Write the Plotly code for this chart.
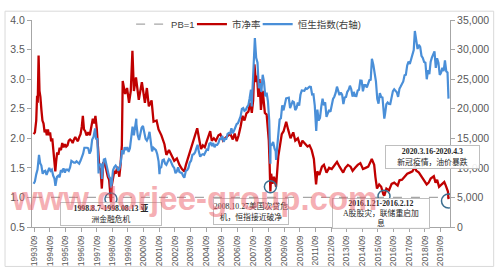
import plotly.graph_objects as go

# ---------------- data ----------------
hsi_dates = [
"1993-08-31","1993-09-30","1993-10-31","1993-11-30","1993-12-31","1994-01-04","1994-01-31","1994-02-28","1994-03-31","1994-04-30","1994-05-31","1994-06-30","1994-07-31","1994-08-31","1994-09-30","1994-10-31","1994-11-30","1994-12-31",
"1995-01-23","1995-02-28","1995-03-31","1995-04-30","1995-05-31","1995-06-30","1995-07-31","1995-08-31","1995-09-30","1995-10-31","1995-11-30","1995-12-31",
"1996-01-31","1996-02-29","1996-03-31","1996-04-30","1996-05-31","1996-06-30","1996-07-31","1996-08-31","1996-09-30","1996-10-31","1996-11-30","1996-12-31",
"1997-01-31","1997-02-28","1997-03-31","1997-04-30","1997-05-31","1997-06-30","1997-07-31","1997-08-07","1997-08-31","1997-09-30","1997-10-28","1997-10-31","1997-11-30","1997-12-31",
"1998-01-12","1998-01-31","1998-02-28","1998-03-31","1998-04-30","1998-05-31","1998-06-30","1998-07-31","1998-08-13","1998-08-31","1998-09-30","1998-10-31","1998-11-30","1998-12-31",
"1999-01-31","1999-02-28","1999-03-31","1999-04-30","1999-05-31","1999-06-30","1999-07-31","1999-08-31","1999-09-30","1999-10-31","1999-11-30","1999-12-31",
"2000-01-31","2000-02-29","2000-03-28","2000-03-31","2000-04-30","2000-05-31","2000-06-30","2000-07-31","2000-08-31","2000-09-30","2000-10-31","2000-11-30","2000-12-31",
"2001-01-31","2001-02-28","2001-03-31","2001-04-30","2001-05-31","2001-06-30","2001-07-31","2001-08-31","2001-09-21","2001-09-30","2001-10-31","2001-11-30","2001-12-31",
"2002-01-31","2002-02-28","2002-03-31","2002-04-30","2002-05-31","2002-06-30","2002-07-31","2002-08-31","2002-09-30","2002-10-31","2002-11-30","2002-12-31",
"2003-01-31","2003-02-28","2003-03-31","2003-04-25","2003-05-31","2003-06-30","2003-07-31","2003-08-31","2003-09-30","2003-10-31","2003-11-30","2003-12-31",
"2004-01-31","2004-02-29","2004-03-31","2004-04-30","2004-05-31","2004-06-30","2004-07-31","2004-08-31","2004-09-30","2004-10-31","2004-11-30","2004-12-31",
"2005-01-31","2005-02-28","2005-03-31","2005-04-30","2005-05-31","2005-06-30","2005-07-31","2005-08-31","2005-09-30","2005-10-31","2005-11-30","2005-12-31",
"2006-01-31","2006-02-28","2006-03-31","2006-04-30","2006-05-31","2006-06-30","2006-07-31","2006-08-31","2006-09-30","2006-10-31","2006-11-30","2006-12-31",
"2007-01-31","2007-02-28","2007-03-31","2007-04-30","2007-05-31","2007-06-30","2007-07-31","2007-08-17","2007-08-31","2007-09-30","2007-10-30","2007-11-30","2007-12-31",
"2008-01-31","2008-02-29","2008-03-31","2008-04-30","2008-05-31","2008-06-30","2008-07-31","2008-08-31","2008-09-30","2008-10-27","2008-10-31","2008-11-30","2008-12-31",
"2009-01-31","2009-02-28","2009-03-09","2009-03-31","2009-04-30","2009-05-31","2009-06-30","2009-07-31","2009-08-31","2009-09-30","2009-10-31","2009-11-30","2009-12-31",
"2010-01-31","2010-02-28","2010-03-31","2010-04-30","2010-05-31","2010-06-30","2010-07-31","2010-08-31","2010-09-30","2010-10-31","2010-11-30","2010-12-31",
"2011-01-31","2011-02-28","2011-03-31","2011-04-30","2011-05-31","2011-06-30","2011-07-31","2011-08-31","2011-10-04","2011-10-31","2011-11-30","2011-12-31",
"2012-01-31","2012-02-29","2012-03-31","2012-04-30","2012-05-31","2012-06-30","2012-07-31","2012-08-31","2012-09-30","2012-10-31","2012-11-30","2012-12-31",
"2013-01-31","2013-02-28","2013-03-31","2013-04-30","2013-05-31","2013-06-30","2013-07-31","2013-08-31","2013-09-30","2013-10-31","2013-11-30","2013-12-31",
"2014-01-31","2014-02-28","2014-03-31","2014-04-30","2014-05-31","2014-06-30","2014-07-31","2014-08-31","2014-09-30","2014-10-31","2014-11-30","2014-12-31",
"2015-01-31","2015-02-28","2015-03-31","2015-04-28","2015-05-31","2015-06-30","2015-07-31","2015-08-31","2015-09-30","2015-10-31","2015-11-30","2015-12-31",
"2016-01-31","2016-02-12","2016-02-29","2016-03-31","2016-04-30","2016-05-31","2016-06-30","2016-07-31","2016-08-31","2016-09-30","2016-10-31","2016-11-30","2016-12-31",
"2017-01-31","2017-02-28","2017-03-31","2017-04-30","2017-05-31","2017-06-30","2017-07-31","2017-08-31","2017-09-30","2017-10-31","2017-11-30","2017-12-31",
"2018-01-26","2018-01-31","2018-02-28","2018-03-31","2018-04-30","2018-05-31","2018-06-30","2018-07-31","2018-08-31","2018-09-30","2018-10-31","2018-11-30","2018-12-31",
"2019-01-31","2019-02-28","2019-03-31","2019-04-30","2019-05-31","2019-06-30","2019-07-31","2019-08-31","2019-09-30","2019-10-31","2019-11-30","2019-12-31",
"2020-01-31","2020-02-29","2020-03-23",
]
hsi_values = [
7300,7700,8900,9700,11888,12200,10800,10400,9000,9400,9500,8800,9400,10000,9500,9700,8700,8190,
6970,8500,8700,8400,9600,9400,9900,9200,9700,9700,9500,10070,
11200,11000,10900,10900,11100,10900,10700,11200,11800,12400,13400,13450,
13400,13300,12400,12900,14800,15200,16400,16673,14800,15000,9060,10600,10500,10700,
8120,9500,11400,11500,10600,9400,8500,8200,6660,7300,9600,10150,10400,10050,
9500,9900,10900,13000,12300,13500,13000,13500,12700,13300,15300,16960,
15500,17100,18300,17400,15500,14700,16100,16800,17100,15650,14900,14600,15100,
16100,14600,12800,13400,13200,13000,12300,11100,8930,9950,10100,11300,11400,
10700,10500,11000,11500,11300,10600,10300,10000,9100,9400,10100,9300,
9200,9100,8600,8330,9500,9600,10000,10900,11200,12200,12300,12600,
13300,13900,12700,11900,12200,12300,12200,12850,13100,13050,14100,14230,
13700,14200,13500,13900,13900,14200,14900,14900,15400,14400,14900,14900,
15750,15900,15800,16700,15850,16300,16970,17400,17550,18300,18700,19960,
20100,19650,19800,20300,20600,21770,23200,20400,23900,27100,31950,28600,27800,
23450,24300,22850,25750,24530,22100,22700,21260,18000,10680,13970,13900,14390,
13280,12800,11340,13580,15520,18170,18380,20570,19720,20950,21750,21820,21870,
20120,20600,21240,21100,19770,20130,21030,20540,22360,23100,23000,23035,
23450,23340,23530,23720,23680,22400,22440,20530,16250,19860,17990,18430,
20390,21680,20560,21090,18630,19440,19800,19480,20840,21640,22030,22660,
23730,23020,22300,22740,22390,20800,21880,22000,22860,23200,23880,23300,
22040,22840,22150,22130,23080,23190,24760,24740,22930,24000,23990,23605,
24500,24820,24900,28440,27420,26250,24640,21670,20850,22640,21990,21910,
19680,18320,19110,20780,21070,20820,20790,21890,22980,23300,22930,22790,22000,
23360,23740,24110,24615,25660,25760,27320,27970,27550,28250,29180,29920,
33150,32890,30840,30090,30810,30470,28950,28580,27890,27790,24980,26500,25850,
27940,28630,29050,29700,26900,28540,27780,25720,26090,26900,26350,28190,
26310,26130,21700,
]

pb_dates = [
"1993-08-31","1993-09-30","1993-10-31","1993-11-20","1993-12-05","1993-12-25","1994-01-15","1994-02-05","1994-03-01","1994-03-25","1994-04-20","1994-05-15","1994-06-10","1994-07-05","1994-08-01","1994-08-25","1994-09-20","1994-10-15","1994-11-10","1994-12-05","1994-12-31",
"1995-01-20","1995-02-10","1995-03-05","1995-04-01","1995-05-01","1995-06-01","1995-07-01","1995-08-01","1995-09-01","1995-10-01","1995-11-01","1995-12-01",
"1996-01-01","1996-02-01","1996-03-01","1996-04-01","1996-05-01","1996-06-01","1996-07-01","1996-08-01","1996-09-01","1996-10-01","1996-10-25","1996-11-20","1996-12-20",
"1997-01-20","1997-03-01","1997-04-05","1997-05-01","1997-06-15","1997-07-20","1997-08-15","1997-09-15","1997-10-25","1997-11-15","1997-12-15",
"1998-01-12","1998-02-15","1998-04-01","1998-06-01","1998-07-01","1998-08-13","1998-09-01","1998-11-01","1998-12-01",
"1999-01-10","1999-02-25","1999-03-25","1999-04-25","1999-05-15","1999-07-10","1999-08-25","1999-10-10","1999-11-20","1999-12-28",
"2000-02-01","2000-03-20","2000-05-25","2000-08-05","2000-10-15","2000-11-30",
"2001-01-15","2001-03-20","2001-05-05","2001-07-15","2001-08-30","2001-11-05",
"2002-01-15","2002-03-01","2002-05-01","2002-07-01","2002-09-01","2002-11-01",
"2003-01-01","2003-03-01","2003-04-25","2003-06-01","2003-08-01","2003-10-01","2003-12-01",
"2004-02-20","2004-04-15","2004-05-20","2004-07-01","2004-08-15","2004-10-01","2004-12-20",
"2005-01-25","2005-03-15","2005-05-01","2005-07-01","2005-08-15","2005-10-15","2005-12-01",
"2006-02-01","2006-04-01","2006-06-01","2006-07-15","2006-09-01","2006-10-15","2006-12-01",
"2007-01-15","2007-03-01","2007-04-15","2007-06-01","2007-07-15","2007-08-20","2007-09-20","2007-10-20","2007-11-25","2007-12-20",
"2008-01-20","2008-02-15","2008-03-20","2008-05-01","2008-06-20","2008-08-01","2008-09-20","2008-10-10","2008-10-27","2008-11-15","2008-12-15",
"2009-01-20","2009-03-09","2009-05-01","2009-06-15","2009-07-20","2009-09-01","2009-11-01","2009-12-15",
"2010-02-10","2010-04-15","2010-06-01","2010-08-01","2010-10-01","2010-11-15",
"2011-01-15","2011-03-15","2011-05-01","2011-06-20","2011-08-10","2011-09-30","2011-10-30","2011-12-15",
"2012-02-15","2012-04-01","2012-06-01","2012-08-01","2012-10-01","2012-12-01",
"2013-02-01","2013-04-01","2013-06-25","2013-08-15","2013-10-15","2013-12-15",
"2014-02-01","2014-04-01","2014-06-01","2014-08-01","2014-10-01","2014-12-01",
"2015-02-01","2015-04-25","2015-06-20","2015-07-20","2015-08-25","2015-10-15","2015-12-01",
"2016-01-21","2016-02-12","2016-04-01","2016-06-01","2016-08-01","2016-10-01","2016-12-20",
"2017-02-01","2017-04-01","2017-06-01","2017-08-01","2017-10-01","2017-12-01",
"2018-01-26","2018-03-01","2018-05-01","2018-07-01","2018-08-15","2018-10-30","2018-12-15",
"2019-02-01","2019-04-15","2019-05-25","2019-07-01","2019-08-15","2019-10-15","2019-12-15",
"2020-01-20","2020-02-15","2020-03-10","2020-03-23",
]
pb_values = [
2.07,2.10,2.30,2.72,2.60,3.40,2.80,2.70,2.48,2.30,2.25,2.10,2.15,2.05,2.15,2.05,2.10,1.95,2.00,1.80,1.55,
1.44,1.62,1.76,1.72,1.84,1.80,1.92,1.85,1.90,1.86,1.88,1.96,
1.98,1.96,1.92,1.98,2.02,1.98,1.95,2.02,2.07,2.20,2.38,2.15,2.12,
2.05,2.10,2.05,2.15,2.33,2.25,2.38,2.17,1.70,1.50,1.46,
1.15,1.60,1.55,1.35,1.30,0.92,1.20,1.45,1.40,
1.52,1.35,1.55,1.88,2.97,2.75,2.85,2.60,2.80,3.48,
2.80,3.03,2.65,2.95,2.60,2.85,
2.54,2.64,2.28,2.30,2.15,2.05,
1.90,1.72,1.80,1.70,1.62,1.66,
1.55,1.48,1.44,1.55,1.70,1.85,1.98,
2.17,1.95,1.82,1.88,1.85,1.95,2.12,
1.96,2.00,1.96,2.05,2.07,1.96,2.00,
2.05,2.08,1.98,2.08,1.95,2.05,2.20,
2.38,2.30,2.42,2.45,2.60,2.43,2.64,3.25,2.95,3.06,
2.70,3.00,2.48,2.80,2.43,2.40,1.96,1.54,1.10,1.40,1.23,
1.35,1.18,1.70,1.90,2.07,2.12,2.28,2.15,
2.00,2.10,1.96,2.00,1.86,1.96,
1.90,1.86,1.88,1.80,1.65,1.22,1.44,1.38,
1.52,1.55,1.42,1.50,1.48,1.55,
1.60,1.52,1.42,1.50,1.55,1.52,
1.45,1.50,1.55,1.58,1.48,1.50,
1.52,1.65,1.55,1.34,1.15,1.22,1.18,
1.05,1.03,1.15,1.12,1.23,1.25,1.20,
1.29,1.30,1.35,1.40,1.42,1.44,
1.52,1.45,1.42,1.35,1.30,1.22,1.25,
1.32,1.36,1.25,1.30,1.18,1.22,1.26,
1.20,1.15,1.10,0.97,
]

pb_line_dates = ["1993-08-15", "2020-04-27"]
pb_line_values = [1.0, 1.0]

tick_years = list(range(1993, 2020))
tick_vals = [f"{y}-09-15" for y in tick_years]
tick_text = [f"{y}/09" for y in tick_years]

# event annotations: (text, anchor date, PB level of circle)
events = [
    ("<b>1998.8.7-1998.08.13 亚</b><br>洲金融危机", "1998-08-13", 0.975),
    ("2008.10.27美国次贷危<br>机，恒指接近破净", "2008-10-27", 1.18),
    ("<b>2016.1.21-2016.2.12</b><br>A股股灾，联储重启加<br>息", "2016-02-05", 1.02),
    ("<b>2020.3.16-2020.4.3</b><br>新冠疫情，油价暴跌", "2020-03-23", 0.94),
]

# ---------------- figure ----------------
W, H = 499, 276
L, R, T, B = 28, 45, 10, 43
PW, PH = W - L - R, H - T - B

def px(x):
    return (x - L) / PW

def py(y):
    return (H - B - y) / PH

RED = "#C00000"
BLUE = "#4A8FD8"
GRAY_TXT = "#595959"
AXIS = "#A6A6A6"
FONT = "Liberation Sans, Noto Sans CJK SC, sans-serif"
SERIF = "Liberation Serif, Noto Sans CJK SC, serif"

fig = go.Figure()
fig.add_trace(go.Scatter(x=pb_line_dates, y=pb_line_values, name="PB=1", mode="lines",
                         line=dict(color="#A6A6A6", width=1.2, dash="dash"), yaxis="y",
                         legend="legend"))
fig.add_trace(go.Scatter(x=pb_dates, y=pb_values, name="市净率", mode="lines",
                         line=dict(color=RED, width=2.3), yaxis="y", legend="legend2"))
fig.add_trace(go.Scatter(x=hsi_dates, y=hsi_values, name="恒生指数(右轴)", mode="lines",
                         line=dict(color=BLUE, width=2.2), yaxis="y2", legend="legend3"))

shapes = []
# outer chart border
shapes.append(dict(type="rect", xref="paper", yref="paper",
                   x0=px(0.5), x1=px(W - 0.5), y0=py(H - 0.5), y1=py(0.5),
                   line=dict(color="#D9D9D9", width=1), fillcolor="rgba(0,0,0,0)", layer="below"))
# circles marking events
circle_r = [6, 6, 6, 7]
for (txt, d, lvl), r in zip(events, circle_r):
    shapes.append(dict(type="circle", xref="x", yref="y", xsizemode="pixel", ysizemode="pixel",
                       xanchor=d, yanchor=lvl, x0=-r, x1=r, y0=-r, y1=r,
                       line=dict(color="#3B6E8F", width=1.5)))

annotations = []
# event boxes: (cx, cy, w, h) pixel geometry
boxes = [(109, 219.5, 100, 22), (251, 216.5, 74, 25), (383.5, 218, 96, 29), (436.5, 157.5, 93, 22)]
for (txt, d, lvl), (cx, cy, bw, bh) in zip(events, boxes):
    annotations.append(dict(text=txt, xref="paper", yref="paper", x=px(cx), y=py(cy),
                            xanchor="center", yanchor="middle", showarrow=False,
                            width=bw, height=bh, align="center",
                            bgcolor="rgba(255,255,255,0.9)", bordercolor="#BFBFBF", borderwidth=1,
                            borderpad=0,
                            font=dict(family=SERIF, size=7.8, color="#262626")))
# watermark (drawn last, on top)
annotations.append(dict(text="<b>www.dorjee-group.com</b>", xref="paper", yref="paper",
                        x=px(193.5), y=py(202), xanchor="center", yanchor="middle",
                        showarrow=False,
                        font=dict(family="Liberation Sans, Arial, sans-serif", size=33,
                                  color="rgba(236,95,105,0.5)")))

legend_common = dict(orientation="h", yanchor="top", y=1.05, xanchor="left",
                     font=dict(family=FONT, size=9.5, color="#404040"),
                     bgcolor="rgba(0,0,0,0)", itemwidth=30, tracegroupgap=0)

fig.update_layout(
    width=W, height=H,
    margin=dict(l=L, r=R, t=T, b=B, pad=0),
    paper_bgcolor="white", plot_bgcolor="white",
    font=dict(family=FONT, color=GRAY_TXT),
    showlegend=True,
    legend=dict(x=px(129), **legend_common),
    legend2=dict(x=px(191), **legend_common),
    legend3=dict(x=px(258), **legend_common),
    xaxis=dict(type="date", range=["1993-07-24", "2020-04-27"],
               tickmode="array", tickvals=tick_vals, ticktext=tick_text,
               tickangle=-90, tickfont=dict(size=8.5, color=GRAY_TXT),
               showgrid=False, zeroline=False,
               showline=True, linecolor=AXIS, linewidth=1,
               ticks="outside", ticklen=4, tickcolor=AXIS),
    yaxis=dict(range=[0.5, 4.0], dtick=0.5, tick0=0.5, tickformat=".1f",
               tickfont=dict(size=10.5, color=GRAY_TXT),
               showgrid=False, zeroline=False,
               showline=True, linecolor=AXIS, linewidth=1,
               ticks="outside", ticklen=4, tickcolor=AXIS),
    yaxis2=dict(range=[0, 35000], dtick=5000, tickformat=",d", overlaying="y", side="right",
                tickfont=dict(size=10.5, color=GRAY_TXT),
                showgrid=False, zeroline=False,
                showline=True, linecolor=AXIS, linewidth=1,
                ticks="outside", ticklen=4, tickcolor=AXIS),
    shapes=shapes,
    annotations=annotations,
)

fig.write_html("out.html")
